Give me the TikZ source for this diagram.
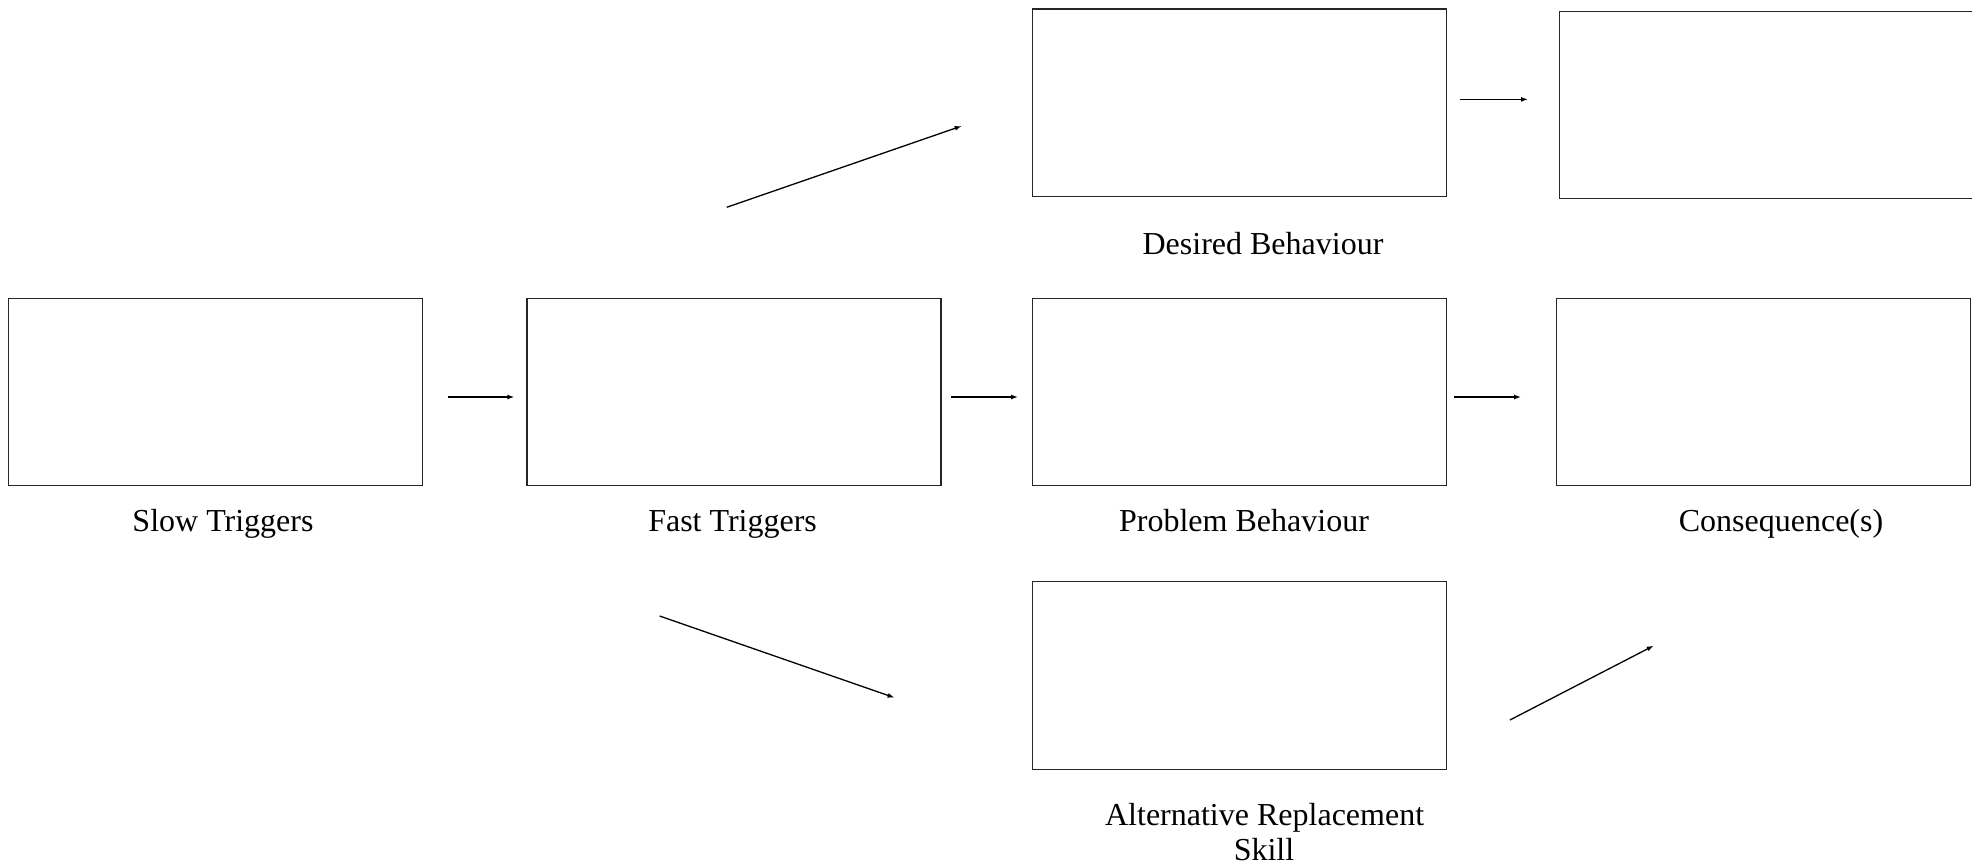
\documentclass[tikz,border=0pt]{standalone}
\usepackage{fontspec}
\setmainfont{Liberation Serif}
\usetikzlibrary{arrows.meta}
\begin{document}
\begin{tikzpicture}[x=1pt,y=-1pt,
  box/.style={draw=black!85, line width=1.4pt, minimum width=414pt, minimum height=187.5pt, inner sep=0pt, outer sep=0pt},
  lbl/.style={font=\fontsize{32}{35}\selectfont, anchor=base, inner sep=0pt, align=center},
  arr/.style={line width=1.3pt, -{Latex[length=7pt,width=5pt]}}]
\useasboundingbox (0,0) rectangle (1972,867);
\begin{scope}
\clip (0,0) rectangle (1972,867);
% boxes
\node[box] (slow) at (215.5,392) {};
\node[box] (fast) at (734,392) {};
\node[box] (prob) at (1239.6,392) {};
\node[box] (cons) at (1763.5,392) {};
\node[box] (des) at (1239.7,102.7) {};
\node[box] (desc) at (1766.7,105) {};
\node[box] (alt) at (1239.7,675.5) {};
\end{scope}
% labels
\node[lbl] (lslow) at (223,531.7) {Slow Triggers};
\node[lbl] (lfast) at (732.6,531.7) {Fast Triggers};
\node[lbl] (lprob) at (1244,531.7) {Problem Behaviour};
\node[lbl] (lcons) at (1781,531.7) {Consequence(s)};
\node[lbl] (ldes) at (1263,254) {Desired Behaviour};
\node[lbl] (lalt1) at (1264.6,825) {Alternative Replacement};
\node[lbl] (lalt2) at (1264,860) {Skill};
% arrow endpoints
\coordinate (a1s) at (447.5,397); \coordinate (a1e) at (514.3,397);
\coordinate (a2s) at (951,397);   \coordinate (a2e) at (1018,397);
\coordinate (a3s) at (1454.4,397); \coordinate (a3e) at (1521,397);
\coordinate (a4s) at (1460,99.4); \coordinate (a4e) at (1528,99.4);
\coordinate (a5s) at (726.7,207.3); \coordinate (a5e) at (961.7,126);
\coordinate (a6s) at (659.6,616); \coordinate (a6e) at (894.6,697.7);
\coordinate (a7s) at (1509.9,720); \coordinate (a7e) at (1653.7,645.7);
\draw[arr] (a1s) -- (a1e);
\draw[arr] (a2s) -- (a2e);
\draw[arr] (a3s) -- (a3e);
\draw[arr] (a4s) -- (a4e);
\draw[arr] (a5s) -- (a5e);
\draw[arr] (a6s) -- (a6e);
\draw[arr] (a7s) -- (a7e);
\end{tikzpicture}
\end{document}
